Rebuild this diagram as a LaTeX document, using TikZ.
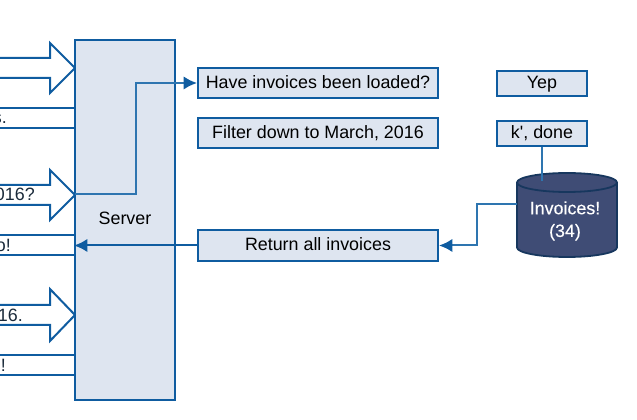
\documentclass[tikz,border=0pt]{standalone}
\usepackage{fontspec}
\setmainfont{Liberation Sans}
\definecolor{edgeblue}{HTML}{0F5CA0}
\definecolor{linkblue}{HTML}{2E75B0}
\definecolor{boxfill}{HTML}{DEE5F0}
\definecolor{dbfill}{HTML}{3F4C75}
\definecolor{dbedge}{HTML}{17375E}
\definecolor{cuttext}{HTML}{1A2A3A}
\usetikzlibrary{arrows.meta}
\tikzset{
  x=0.75pt,y=-0.75pt,
  boxstyle/.style={draw=edgeblue,fill=boxfill,line width=1.5pt,inner sep=0pt,font=\fontsize{13.4}{15}\selectfont,text=black,anchor=center,text height=9.6pt,text depth=1.35pt},
  outline/.style={draw=edgeblue,line width=1.5pt},
  cuttxt/.style={anchor=east,inner sep=0pt,font=\fontsize{13.4}{15}\selectfont,text=cuttext},
  darklink/.style={draw=edgeblue,line width=1.5pt,-{Latex[length=10pt,width=10pt]}},
  lightlink/.style={draw=linkblue,line width=1.5pt},
  lightarrow/.style={lightlink,-{Latex[length=10pt,width=10pt,color=edgeblue]}},
}
\begin{document}
\begin{tikzpicture}
\useasboundingbox (0,0) rectangle (637,420);
% open arrows from the cropped left side
\draw[outline,line join=miter] (-5,58) -- (50,58) -- (50,43) -- (75,68) -- (50,93) -- (50,78) -- (-5,78);
\draw[outline,line join=miter] (-5,185) -- (50,185) -- (50,170) -- (75,195) -- (50,220) -- (50,205) -- (-5,205);
\draw[outline,line join=miter] (-5,305) -- (50,305) -- (50,289) -- (75,315) -- (50,341) -- (50,325) -- (-5,325);
% open bars
\draw[outline] (-5,108) -- (75,108) (-5,128) -- (75,128);
\draw[outline] (-5,235) -- (75,235) (-5,255) -- (75,255);
\draw[outline] (-5,355) -- (75,355) (-5,375) -- (75,375);
% cropped labels
\node[cuttxt] (t1) at (7,118.5) {s.};
\node[cuttxt] (t2) at (35,194.5) {016?};
\node[cuttxt] (t3) at (11,245.5) {o!};
\node[cuttxt] (t4) at (23,315.5) {16.};
\node[cuttxt] (t5) at (6,365.5) {o!};
% server
\node[boxstyle,minimum width=75pt,minimum height=270pt] (server) at (125,220) {};
\node[inner sep=0pt,font=\fontsize{13.4}{15}\selectfont] (serverlabel) at (125,218.5) {Server};
% boxes
\node[boxstyle,minimum width=180pt,minimum height=22.5pt] (loaded) at (318,83) {Have invoices been loaded?};
\node[boxstyle,minimum width=180pt,minimum height=22.5pt] (filter) at (318,133) {Filter down to March, 2016};
\node[boxstyle,minimum width=180pt,minimum height=23pt] (return) at (318,245.5) {Return all invoices};
\node[boxstyle,minimum width=67.5pt,minimum height=18.75pt] (yep) at (542,83.5) {Yep};
\node[boxstyle,minimum width=67.5pt,minimum height=18.75pt] (done) at (542,133.5) {k\textquotesingle, done};
% database
\draw[draw=dbedge,fill=dbfill,line width=1.35pt] (517,182.5) arc[x radius=50,y radius=9.5,start angle=180,end angle=360] -- (617,247.5) arc[x radius=50,y radius=9.5,start angle=0,end angle=180] -- cycle;
\draw[draw=dbedge,line width=1.35pt] (517,182.5) arc[x radius=50,y radius=9.5,start angle=180,end angle=0];
\node[inner sep=0pt,minimum width=75pt,minimum height=63pt,align=center,text=white,font=\addfontfeature{FakeBold=0.2}\fontsize{13.4}{17}\selectfont] (db) at (565,221) {Invoices!\\(34)};
\coordinate (tip2) at (75,194.5);
\coordinate (dbtop) at (542,181);
\coordinate (dbleft) at (517,204);
% connectors
\draw[lightarrow] (tip2) -- (136,194.5) -- (136,83) -- (loaded.west);
\draw[darklink] (return.west) -- (server.west |- return.west);
\draw[lightlink] (done.south) -- (dbtop);
\draw[lightarrow] (dbleft) -- (477,204) -- (477,245.5) -- (return.east);
\end{tikzpicture}
\end{document}
